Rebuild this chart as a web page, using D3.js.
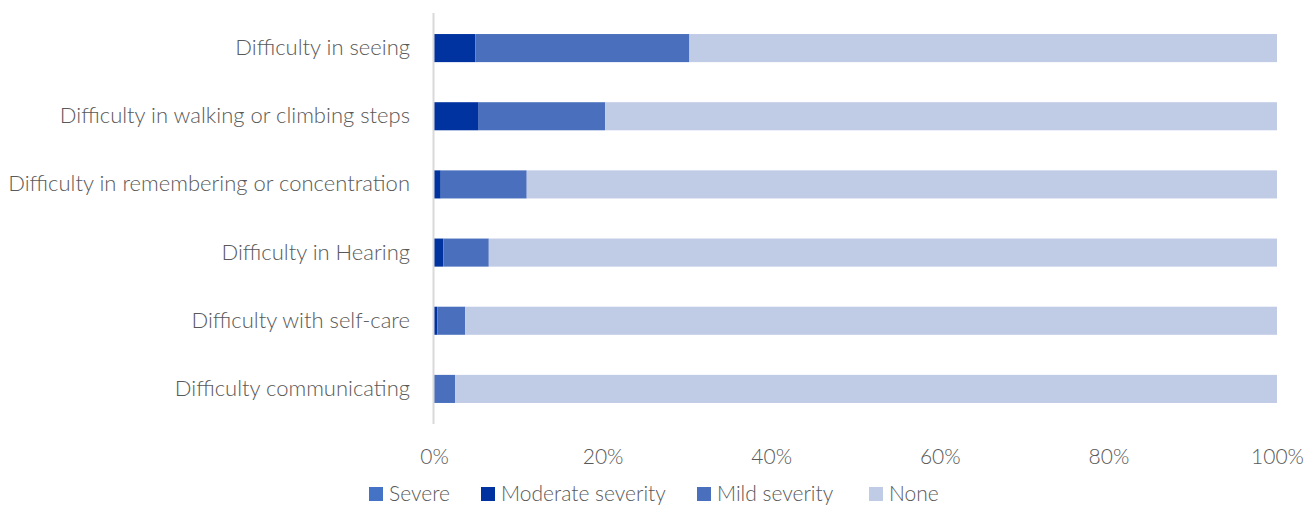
<!DOCTYPE html>
<html>
<head>
<meta charset="utf-8">
<script src="https://cdn.jsdelivr.net/npm/d3@7"></script>
<style>
  html, body { margin: 0; padding: 0; background: #fff; }
  svg text { font-family: "Lato", "Open Sans", sans-serif; font-weight: 300; fill: #595959; }
</style>
</head>
<body>
<svg id="chart" width="1306" height="505"></svg>
<script>
// Categories, top to bottom
const categories = [
  "Difficulty in seeing",
  "Difficulty in walking or climbing steps",
  "Difficulty in remembering or concentration",
  "Difficulty in Hearing",
  "Difficulty with self-care",
  "Difficulty communicating"
];

// Share of respondents (%) per severity level
const severe   = [0.0, 0.0, 0.0, 0.0, 0.0, 0.0];
const moderate = [4.9, 5.3, 0.8, 1.1, 0.4, 0.0];
const mild     = [25.4, 15.0, 10.2, 5.4, 3.3, 2.5];
const none     = [69.7, 79.7, 89.0, 93.5, 96.3, 97.5];

const seriesNames = ["Severe", "Moderate severity", "Mild severity", "None"];
const seriesColors = ["#4472C4", "#0033A0", "#4A70BD", "#C0CBE6"];
const tickValues = [0, 20, 40, 60, 80, 100];

const rows = categories.map((c, i) => ({
  category: c,
  "Severe": severe[i],
  "Moderate severity": moderate[i],
  "Mild severity": mild[i],
  "None": none[i]
}));

const svg = d3.select("#chart");
const margin = { left: 434, right: 29, top: 14, bottom: 82 };
const width = 1306 - margin.left - margin.right;
const height = 505 - margin.top - margin.bottom;

const x = d3.scaleLinear().domain([0, 100]).range([0, width]);
const y = d3.scaleBand().domain(categories).range([0, height]).paddingInner(0.588).paddingOuter(0.294);

const g = svg.append("g").attr("transform", `translate(${margin.left},${margin.top})`);

const stacked = d3.stack().keys(seriesNames)(rows);
const color = d3.scaleOrdinal().domain(seriesNames).range(seriesColors);

g.selectAll("g.series")
  .data(stacked)
  .join("g")
  .attr("class", "series")
  .attr("fill", d => color(d.key))
  .selectAll("rect")
  .data(d => d)
  .join("rect")
  .attr("x", d => x(d[0]))
  .attr("y", d => y(d.data.category))
  .attr("width", d => Math.max(0, x(d[1]) - x(d[0])))
  .attr("height", y.bandwidth());

// Category axis line
g.append("line")
  .attr("x1", -0.5).attr("x2", -0.5)
  .attr("y1", -1).attr("y2", height + 1)
  .attr("stroke", "#d9d9d9").attr("stroke-width", 2);

// Category labels
const yAxis = d3.axisLeft(y).tickSize(0).tickPadding(24);
const yg = g.append("g").call(yAxis);
yg.select(".domain").remove();
yg.selectAll("text").style("font-size", "22px").attr("fill", "#595959");

// Percent axis labels
const xAxis = d3.axisBottom(x).tickValues(tickValues).tickFormat(d => d + "%").tickSize(0).tickPadding(26);
const xg = g.append("g").attr("transform", `translate(0,${height})`).call(xAxis);
xg.select(".domain").remove();
xg.selectAll("text").style("font-size", "21px").attr("fill", "#595959");

// Legend
const legendX = [369, 481, 697, 869];
const legend = svg.append("g");
seriesNames.forEach((name, i) => {
  legend.append("rect")
    .attr("x", legendX[i]).attr("y", 487)
    .attr("width", 14).attr("height", 14)
    .attr("fill", seriesColors[i]);
  legend.append("text")
    .attr("x", legendX[i] + 20).attr("y", 501)
    .style("font-size", "21px")
    .text(name);
});
</script>
</body>
</html>
